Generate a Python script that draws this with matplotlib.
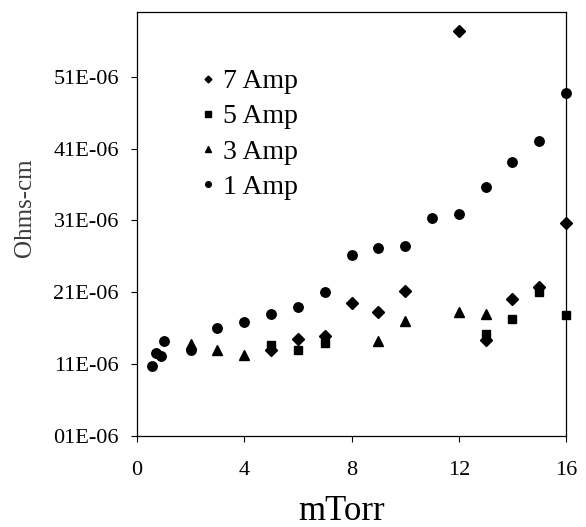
import matplotlib
matplotlib.use("Agg")
import matplotlib.pyplot as plt
from matplotlib.ticker import FixedLocator, FuncFormatter

# Data (resistivity in units of 1E-06 Ohms-cm)
amp7_x = [5, 6, 7, 8, 9, 10, 12, 13, 14, 15, 16]
amp7_y = [12.9, 14.5, 14.9, 19.5, 18.3, 21.2, 57.3, 14.3, 20.1, 21.8, 30.6]

amp5_x = [5, 6, 7, 13, 14, 15, 16]
amp5_y = [13.7, 12.9, 13.9, 15.2, 17.3, 21.1, 17.8]

amp3_x = [2, 3, 4, 9, 10, 12, 13]
amp3_y = [13.8, 12.9, 12.3, 14.2, 17.0, 18.3, 18.0]

amp1_x = [0.57, 0.7, 0.9, 1.0, 2, 3, 4, 5, 6, 7, 8, 9, 10, 11, 12, 13, 14, 15, 16]
amp1_y = [10.8, 12.5, 12.2, 14.2, 12.9, 16.0, 16.9, 18.0, 18.9, 21.0, 26.2, 27.2, 27.5,
          31.3, 31.9, 35.7, 39.1, 42.1, 48.7]

y_ticks = [1, 11, 21, 31, 41, 51]
x_ticks = [0, 4, 8, 12, 16]

plt.rcParams['font.family'] = ['Liberation Serif', 'DejaVu Serif']

fig = plt.figure(figsize=(5.86, 5.27), dpi=100)
ax = fig.add_axes([137/586, 1-436/527, (566-137)/586, (436-12)/527])

ms = 6.8
ax.plot(amp7_x, amp7_y, linestyle='none', marker='D', color='black', markersize=ms*0.85, label='7 Amp', clip_on=False)
ax.plot(amp5_x, amp5_y, linestyle='none', marker='s', color='black', markersize=ms*0.9, label='5 Amp', clip_on=False)
ax.plot(amp3_x, amp3_y, linestyle='none', marker='^', color='black', markersize=ms, label='3 Amp', clip_on=False)
ax.plot(amp1_x, amp1_y, linestyle='none', marker='o', color='black', markersize=ms, label='1 Amp', clip_on=False)

ax.set_xlim(0, 16)
ax.set_ylim(1, 60)
ax.yaxis.set_major_locator(FixedLocator(y_ticks))
ax.yaxis.set_major_formatter(FuncFormatter(lambda v, p: "%02dE-06" % int(round(v))))
ax.xaxis.set_major_locator(FixedLocator(x_ticks))
ax.tick_params(direction='out', length=4, width=0.8, labelsize=16)
ax.tick_params(axis='y', pad=9)
ax.tick_params(axis='x', pad=14)
for s in ax.spines.values():
    s.set_linewidth(0.9)

ax.set_xlabel('mTorr', fontsize=25)
ax.xaxis.set_label_coords(0.476, -0.138)
ax.set_ylabel('Ohms-cm', fontsize=18, color='#3a3a3a')
ax.yaxis.set_label_coords(-0.261, 0.538)
ax.yaxis.label.set_va('center')

leg = ax.legend(loc='upper left', bbox_to_anchor=(0.145, 0.866), frameon=False,
                fontsize=20, markerscale=0.6, handlelength=0.6, handletextpad=0.25,
                labelspacing=0.35, borderpad=0, borderaxespad=0)

fig.savefig('out.png', dpi=100)
